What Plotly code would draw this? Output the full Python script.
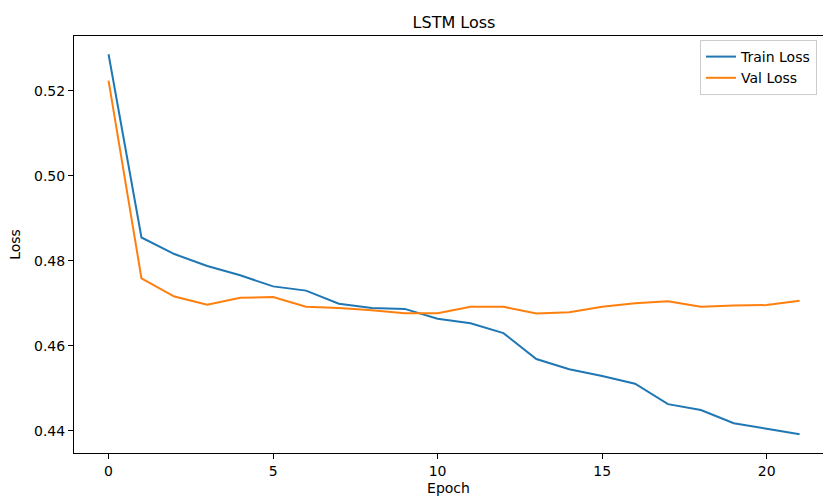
import plotly.graph_objects as go

epochs = list(range(22))
train_loss = [0.5286, 0.4855, 0.4816, 0.4788, 0.4766, 0.4740, 0.4730, 0.4699,
              0.4689, 0.4687, 0.4664, 0.4653, 0.4630, 0.4569, 0.4545, 0.4529,
              0.4511, 0.4463, 0.4449, 0.4418, 0.4405, 0.4392]
val_loss = [0.5224, 0.4759, 0.4716, 0.4697, 0.4713, 0.4715, 0.4692, 0.4689,
            0.4684, 0.4677, 0.4677, 0.4692, 0.4692, 0.4676, 0.4679, 0.4692,
            0.4700, 0.4705, 0.4692, 0.4695, 0.4696, 0.4706]
x_ticks = [0, 5, 10, 15, 20]
y_ticks = [0.44, 0.46, 0.48, 0.50, 0.52]

W, H = 823, 496
L, R, T, B = 74, 0, 36, 43

fig = go.Figure()
fig.add_trace(go.Scatter(x=epochs, y=train_loss, mode="lines", name="Train Loss",
                         line=dict(color="#1f77b4", width=2)))
fig.add_trace(go.Scatter(x=epochs, y=val_loss, mode="lines", name="Val Loss",
                         line=dict(color="#ff7f0e", width=2)))

font = "DejaVu Sans, sans-serif"
fig.update_layout(
    width=W, height=H,
    margin=dict(l=L, r=R, t=T, b=B, autoexpand=False),
    paper_bgcolor="white", plot_bgcolor="white",
    font=dict(family=font, size=14, color="black"),
    title=dict(text="LSTM Loss", x=454 / W, xanchor="center",
               y=1 - 22 / H, yanchor="middle", yref="container",
               font=dict(size=16, family=font, color="black")),
    showlegend=True,
    legend=dict(x=(700 - L) / (W - L - R), xanchor="left",
                y=1 - (40 - T) / (H - T - B), yanchor="top",
                bgcolor="white", bordercolor="#cccccc", borderwidth=1,
                font=dict(size=14, family=font), tracegroupgap=0),
    xaxis=dict(range=[-1.05, (W - 108.7) / 32.9], tickvals=x_ticks,
               showgrid=False, zeroline=False, showline=True, linecolor="black",
               linewidth=1, mirror=True, ticks="outside", ticklen=5,
               tickcolor="black", tickfont=dict(size=14), automargin=False,
               title=dict(text="Epoch", standoff=6, font=dict(size=14))),
    yaxis=dict(range=[0.4348, 0.5329], tickvals=y_ticks, tickformat=".2f",
               showgrid=False, zeroline=False, showline=True, linecolor="black",
               linewidth=1, ticks="outside", ticklen=5, tickcolor="black",
               tickfont=dict(size=14), automargin=False,
               title=dict(text="Loss", standoff=10, font=dict(size=14))),
)

fig.write_html("out.html", config={"displayModeBar": False})

# remove the browser's default page margin so the figure sits at the top-left
with open("out.html", "r", encoding="utf-8") as f:
    html = f.read()
html = html.replace("<body>", '<body style="margin:0;padding:0;overflow:hidden">', 1)
with open("out.html", "w", encoding="utf-8") as f:
    f.write(html)
